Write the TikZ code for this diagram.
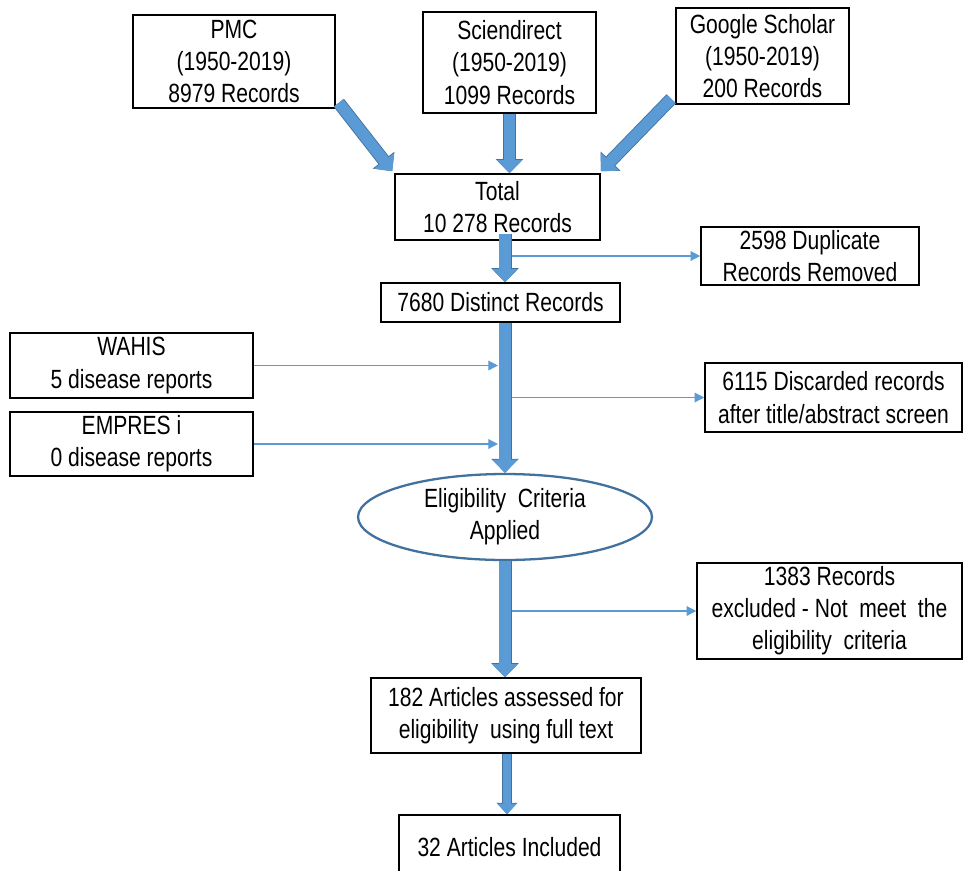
\documentclass[tikz,border=0pt]{standalone}
\usepackage{fontspec}
\setmainfont{Liberation Sans}[FakeStretch=0.8]
\usetikzlibrary{arrows.meta,shapes.geometric}
\definecolor{flowblue}{HTML}{5B9BD5}
\definecolor{flowedge}{HTML}{41719C}

\tikzset{
  rec/.style={draw, line width=0.9pt, align=center, inner sep=0pt, fill=white},
  flow/.style={line width=6.4pt, flowblue, -{Triangle[length=7.5pt,width=14pt]},
    preaction={draw=flowedge, line width=7.4pt, -{Triangle[length=8pt,width=15.2pt]}}},
  flowsmall/.style={line width=4.2pt, flowblue, -{Triangle[length=6pt,width=10.5pt]},
    preaction={draw=flowedge, line width=5.2pt, -{Triangle[length=6.5pt,width=11.6pt]}}},
  feed/.style={line width=0.7pt, flowblue, -{Triangle[length=5.5pt,width=5.5pt]}},
}

\begin{document}
\begin{tikzpicture}[x=0.02cm,y=-0.02cm,font=\fontsize{15}{18.3}\selectfont]
\useasboundingbox (0,0) rectangle (964,870);

% sources
\node[rec, minimum width=4.04cm, minimum height=1.86cm] (pmc) at (234,61.5) {PMC\\(1950-2019)\\8979 Records};
\node[rec, minimum width=3.46cm, minimum height=2.02cm] (sci) at (509.5,62.5) {Sciendirect\\(1950-2019)\\1099 Records};
\node[rec, minimum width=3.46cm, minimum height=1.92cm] (gs) at (762.5,56) {Google Scholar\\(1950-2019)\\200 Records};

% main column
\node[rec, minimum width=4.1cm, minimum height=1.32cm] (total) at (497.5,207) {Total\\10 278 Records};
\node[rec, minimum width=4.78cm, minimum height=0.78cm] (distinct) at (500.5,302.5) {7680 Distinct Records};
\node[ellipse, draw=flowedge, line width=1.3pt, fill=white, align=center, inner sep=0pt,
  minimum width=5.88cm, minimum height=1.72cm] (elig) at (505,517) {Eligibility~ Criteria\\Applied};
\node[rec, minimum width=5.4cm, minimum height=1.5cm] (assess) at (506,715.5) {182 Articles assessed for\\eligibility~ using full text};
\node[rec, minimum width=4.42cm, minimum height=1.3cm] (incl) at (509.5,847.5) {32 Articles Included};

% side boxes
\node[rec, minimum width=4.36cm, minimum height=1.16cm] (dup) at (810,256) {2598 Duplicate\\Records Removed};
\node[rec, minimum width=4.86cm, minimum height=1.3cm] (wahis) at (131.5,365.5) {WAHIS\\5 disease reports};
\node[rec, minimum width=4.86cm, minimum height=1.28cm] (empres) at (131.5,444) {EMPRES i\\0 disease reports};
\node[rec, minimum width=5.14cm, minimum height=1.38cm] (disc) at (833.5,397.5) {6115 Discarded records\\after title/abstract screen};
\node[rec, minimum width=5.3cm, minimum height=1.92cm] (excl) at (829.5,611) {1383 Records\\excluded - Not~ meet~ the\\eligibility~ criteria};

% spine coordinates
\coordinate (s1) at (505,234);
\coordinate (sl) at (498,0);
\coordinate (s2) at (507,0);

% thin side arrows
\draw[feed] (s1 |- dup.west) -- (dup.west);
\draw[feed] (wahis.east) -- (wahis.east -| sl);
\draw[feed] (empres.east) -- (empres.east -| sl);
\draw[feed] (s1 |- disc.west) -- (disc.west);
\draw[feed] (s1 |- excl.west) -- (excl.west);

% thick arrows
\draw[flow] ([shift={(3,-6)}]pmc.south east) -- ([shift={(-2,-2)}]total.north west);
\draw[flow] (sci.south) -- (sci.south |- total.north);
\draw[flow] ([shift={(-4,-6)}]gs.south west) -- ([shift={(0,-2)}]total.north east);
\draw[flow] (s1) -- (s1 |- distinct.north);
\draw[flow] (distinct.south -| s1) -- (s1 |- elig.north);
\draw[flow] (elig.south -| s1) -- (s1 |- assess.north);
\draw[flowsmall] (assess.south -| s2) -- (s2 |- incl.north);
\end{tikzpicture}
\end{document}
